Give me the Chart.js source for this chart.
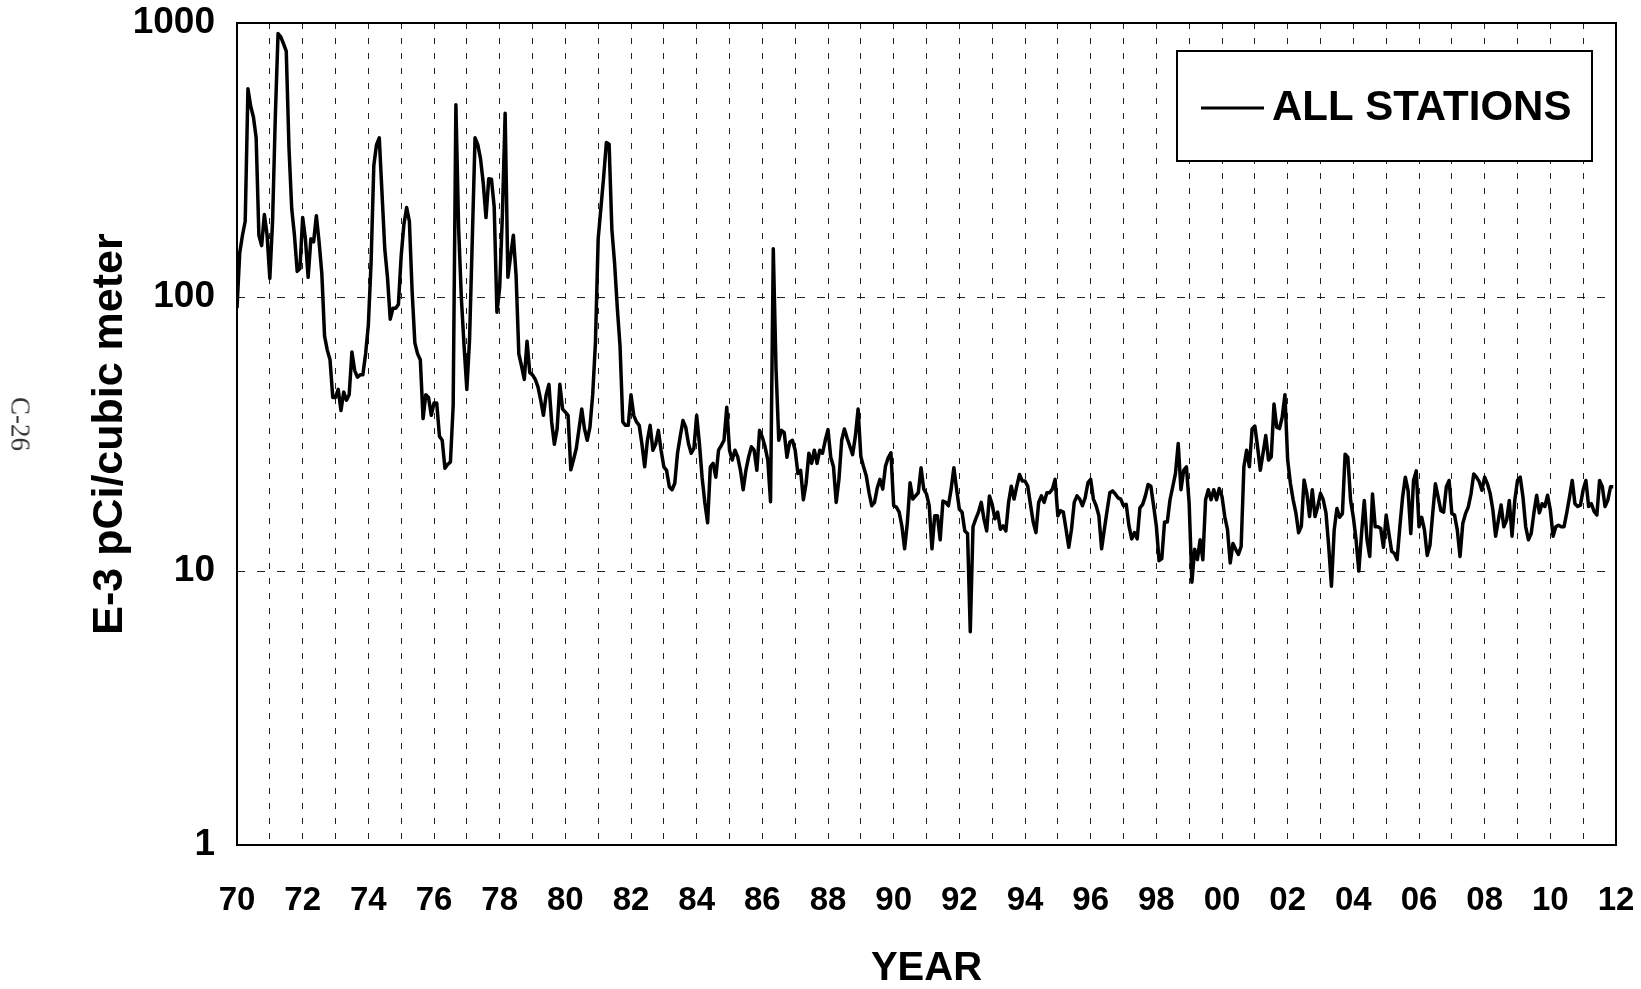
<!DOCTYPE html>
<html>
<head>
<meta charset="utf-8">
<script src="https://cdn.jsdelivr.net/npm/chart.js@4.4.1/dist/chart.umd.min.js"></script>
<style>
  html, body { margin: 0; padding: 0; background: #fff; }
  #wrap { position: relative; width: 1641px; height: 989px; }
  #side {
    position: absolute; left: 20px; top: 424px;
    transform: translate(-50%, -50%) rotate(90deg);
    font: 27px 'Liberation Serif', serif; color: #333; white-space: nowrap;
  }
</style>
</head>
<body>
<div id="wrap">
  <canvas id="c" width="1641" height="989"></canvas>
  <div id="side">C-26</div>
</div>
<script>
// monthly averages, Jan 1970 .. Dec 2011 (E-3 pCi/m3)
const FIRST_YEAR = 1970;
const LAST_YEAR = 2012;

const v1970s = [
  91, 145, 168, 189, 575, 497, 454, 381, 168, 154, 200, 168,
  117, 189, 454, 915, 890, 840, 790, 350, 210, 168, 124, 127,
  195, 163, 118, 163, 159, 198, 159, 122, 72, 64, 59, 43,
  43, 46, 38.5, 45, 42, 44, 63, 54, 51, 52, 52, 62,
  79, 133, 302, 360, 381, 239, 150, 118, 83, 91, 91, 94,
  141, 184, 212, 189, 105, 68, 62, 59, 36, 44, 43, 37,
  41, 41, 31, 30, 23.7, 24.5, 25, 40, 503, 178, 99, 66,
  46, 70, 163, 381, 360, 320, 260, 195, 270, 269, 213, 88,
  108, 200, 468, 118, 141, 168, 120, 62, 56, 50, 69, 53,
  52, 50, 47, 42, 37, 44, 48, 35, 29, 33, 48, 39,
];

const v1980s = [
  38, 37, 23.4, 25.5, 28, 33, 39, 33, 30, 33.5, 44, 68,
  163, 211, 274, 366, 361, 177, 133, 91, 66, 35, 34, 34,
  44, 37, 35, 34, 29, 24, 30, 34, 27.6, 29, 32.6, 27.6,
  24, 23.3, 20.3, 19.8, 20.9, 26.9, 31, 35.4, 33.5, 29.2, 26.9, 28,
  37, 29.2, 21.9, 17.7, 15, 24, 24.7, 22, 27.6, 28.7, 30, 39.6,
  27.6, 25.4, 27.6, 26.1, 23.3, 19.8, 23.3, 26.1, 28.4, 27.6, 23.3, 32.6,
  30.8, 28.4, 25.4, 17.9, 150, 55, 30, 32.6, 32, 26, 29.5, 30,
  27.6, 22.7, 23.3, 18.2, 20.9, 26.9, 24.7, 27.6, 24.7, 27.6, 26.9, 30,
  32.8, 26, 24, 17.8, 21.6, 30, 33, 30.5, 28.5, 26.6, 31, 39,
  26.2, 24, 22.2, 19.3, 17.3, 17.8, 20.1, 21.6, 19.9, 24.1, 25.9, 27,
];

const v1990s = [
  17.3, 17.1, 16.4, 14.6, 12.05, 15, 21, 18.3, 18.8, 19.3, 23.8, 19.9,
  19.1, 17.3, 12.05, 15.9, 15.9, 13, 18, 17.8, 17.3, 19.9, 23.8, 19.9,
  16.8, 16.4, 14, 13.7, 6.0, 14.5, 15.5, 16.4, 17.8, 15.5, 14, 18.8,
  17.5, 15.5, 16.4, 14.2, 14.6, 14, 17.8, 20.4, 18.3, 20.4, 22.5, 21.3,
  21.3, 20.4, 17.5, 15.1, 13.8, 17.8, 18.8, 17.8, 19.3, 19.3, 19.9, 21.6,
  15.9, 16.6, 16.4, 14.2, 12.2, 14.2, 17.8, 18.8, 18.3, 17.3, 18.5, 21,
  21.6, 18.3, 17.3, 15.9, 12.05, 14.2, 16.6, 19.3, 19.6, 19.1, 18.5, 18.3,
  17.3, 17.5, 14.6, 13.1, 13.8, 13.1, 17, 17.5, 18.8, 20.7, 20.4, 17.3,
  14.6, 10.9, 11.1, 15.1, 15.1, 18.2, 20.3, 22.7, 29.2, 19.8, 23.3, 24,
  17.6, 9.1, 12, 11, 13, 11, 18.2, 19.8, 18.2, 19.8, 18.2, 20,
];

const v2000s = [
  18.7, 15.8, 14.2, 10.7, 12.6, 12, 11.5, 12.3, 24, 27.6, 24, 33,
  33.8, 28.4, 23.3, 26.9, 31.2, 25.4, 26.1, 40.7, 33.5, 33.1, 36.4, 44,
  25.4, 20.9, 18.2, 16.3, 13.8, 14.6, 21.5, 19.2, 15.8, 19.8, 15.8, 17.2,
  19.2, 18.2, 16.3, 12.3, 8.8, 14.1, 16.9, 15.7, 16.2, 26.7, 26, 18.1,
  15.7, 13, 10, 13.7, 18.1, 13, 11.3, 19.1, 14.5, 14.5, 14.3, 12.2,
  16, 13.7, 11.8, 11.6, 11, 14.5, 18.6, 22, 19.7, 13.7, 21.4, 23.2,
  14.5, 15.7, 14.1, 11.4, 12.4, 16.2, 20.8, 18.6, 16.6, 16.4, 20.3, 21.4,
  16.2, 16, 14.1, 11.3, 14.9, 16.2, 17.1, 19.1, 22.6, 22, 21.2, 19.7,
  22, 20.8, 19.2, 16.7, 13.4, 15.3, 17.4, 14.5, 15.3, 18.1, 13.4, 18.1,
  21.4, 22, 18.6, 14.5, 13, 13.7, 16.3, 18.9, 16.3, 17.6, 17.2, 18.9,
];

const v2010s = [
  16.7, 13.4, 14.5, 14.7, 14.5, 14.5, 16.3, 18.6, 21.4, 17.6, 17.2, 17.4,
  19.8, 21.4, 17.2, 17.6, 16.5, 16, 21.4, 20.3, 17.2, 18.1, 20.3, 20.3,
];

const yTicks = [1, 10, 100, 1000];
const seriesLabel = 'ALL STATIONS';

const values = [...v1970s, ...v1980s, ...v1990s, ...v2000s, ...v2010s];
const points = values.map((v, i) => ({ x: FIRST_YEAR + i / 12, y: v }));

const FONT = "'Liberation Sans', Arial, sans-serif";

const framePlugin = {
  id: 'frame',
  afterDatasetsDraw(chart) {
    const { ctx, chartArea: a } = chart;
    ctx.save();
    ctx.strokeStyle = '#000';
    ctx.lineWidth = 2;
    ctx.strokeRect(a.left, a.top, a.right - a.left, a.bottom - a.top);
    ctx.restore();
  },
};

// boxed legend inside the plot, top right
const legendBox = {
  id: 'legendBox',
  afterDraw(chart) {
    const { ctx, chartArea: a } = chart;
    const ds = chart.data.datasets[0];
    const x = a.right - 439, y = a.top + 28, w = 415, h = 110;
    ctx.save();
    ctx.fillStyle = '#fff';
    ctx.fillRect(x, y, w, h);
    ctx.strokeStyle = '#000';
    ctx.lineWidth = 2;
    ctx.strokeRect(x, y, w, h);
    const cy = y + h / 2 + 2;
    ctx.strokeStyle = ds.borderColor;
    ctx.lineWidth = 3;
    ctx.beginPath();
    ctx.moveTo(x + 24, cy);
    ctx.lineTo(x + 87, cy);
    ctx.stroke();
    ctx.fillStyle = '#000';
    ctx.font = `bold 42px ${FONT}`;
    ctx.textBaseline = 'middle';
    ctx.fillText(ds.label, x + 95, cy);
    ctx.restore();
  },
};

new Chart(document.getElementById('c'), {
  type: 'line',
  data: {
    datasets: [{
      label: seriesLabel,
      data: points,
      borderColor: '#000',
      borderWidth: 3.5,
      borderJoinStyle: 'round',
      pointRadius: 0,
      tension: 0,
    }],
  },
  options: {
    responsive: false,
    animation: false,
    layout: { padding: { top: 23, right: 25, left: 0, bottom: 0 } },
    plugins: { legend: { display: false }, tooltip: { enabled: false } },
    scales: {
      x: {
        type: 'linear',
        min: FIRST_YEAR,
        max: LAST_YEAR,
        afterFit: (s) => {
          s.height = 144;
          s.paddingLeft = 20;
          s.paddingRight = 20;
        },
        ticks: {
          stepSize: 1,
          autoSkip: false,
          maxRotation: 0,
          padding: 36,
          color: '#000',
          font: { family: FONT, size: 33, weight: 'bold' },
          callback: (v) => (v % 2 === 0 ? String(v % 100).padStart(2, '0') : ''),
        },
        grid: {
          drawTicks: false,
          lineWidth: 1,
          color: (c) => (c.tick && c.tick.value > FIRST_YEAR && c.tick.value < LAST_YEAR ? '#222' : 'transparent'),
        },
        border: { display: false, dash: [6, 9] },
        title: {
          display: true,
          text: 'YEAR',
          color: '#000',
          font: { family: FONT, size: 40, weight: 'bold', lineHeight: 1.0 },
          padding: { top: 0, bottom: 0 },
        },
      },
      y: {
        type: 'logarithmic',
        min: 1,
        max: 1000,
        afterFit: (s) => {
          s.width = 237;
          s.paddingTop = 20;
          s.paddingBottom = 20;
        },
        afterBuildTicks: (s) => { s.ticks = yTicks.map((v) => ({ value: v })); },
        ticks: {
          padding: 22,
          color: '#000',
          font: { family: FONT, size: 37, weight: 'bold' },
          callback: (v) => String(v),
        },
        grid: {
          drawTicks: false,
          lineWidth: 1,
          color: (c) => (c.tick && (c.tick.value === 10 || c.tick.value === 100) ? '#222' : 'transparent'),
        },
        border: { display: false, dash: [8, 12] },
        title: {
          display: true,
          text: 'E-3 pCi/cubic meter',
          color: '#000',
          font: { family: FONT, size: 43, weight: 'bold' },
          padding: { top: 84, bottom: 0 },
        },
      },
    },
  },
  plugins: [framePlugin, legendBox],
});
</script>
</body>
</html>
